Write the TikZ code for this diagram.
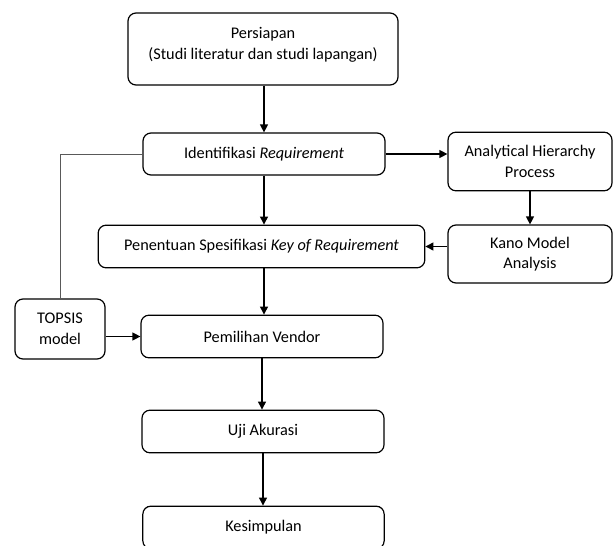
\documentclass[tikz,border=0pt]{standalone}
\usepackage{fontspec}
\setmainfont{Carlito}
\usepackage{tikz}
\usetikzlibrary{arrows.meta,positioning}

\tikzset{
  stepbox/.style={draw, rounded corners=6pt, line width=0.9pt, align=center,
    font=\fontsize{12.2}{15.5}\selectfont, inner sep=2pt},
  flow/.style={line width=0.9pt, -{Triangle[length=6pt,width=6pt]}},
}

\begin{document}
\begin{tikzpicture}[x=0.75pt,y=-0.75pt]
            \useasboundingbox (0,0) rectangle (614,546);
            \node[stepbox, minimum width=202.5pt, minimum height=54pt] (persiapan) at (263,49) {Persiapan\\(Studi literatur dan studi lapangan)\\[-7.5pt]};
            \node[stepbox, minimum width=181.5pt, minimum height=31.5pt] (ident) at (264,154) {Identifikasi \textit{Requirement}};
            \node[stepbox, minimum width=123pt, minimum height=44pt] (ahp) at (530,161.5) {Analytical Hierarchy\\Process};
            \node[stepbox, minimum width=245pt, minimum height=32pt] (penentuan) at (261.5,246.5) {Penentuan Spesifikasi \textit{Key of Requirement}};
            \node[stepbox, minimum width=123pt, minimum height=43.5pt] (kano) at (530,254) {Kano Model\\Analysis};
            \node[stepbox, minimum width=67.5pt, minimum height=45pt] (topsis) at (60,329) {TOPSIS\\model};
            \node[stepbox, minimum width=181.5pt, minimum height=32pt] (pemilihan) at (262,336.5) {Pemilihan Vendor};
            \node[stepbox, minimum width=181.5pt, minimum height=32pt] (uji) at (263,431.5) {Uji Akurasi};
            \node[stepbox, minimum width=181pt, minimum height=32pt] (kesimpulan) at (263.5,527.5) {Kesimpulan};
            \draw[flow] (persiapan.south -| ident.north) -- (ident.north);
            \draw[flow] (ident.south) -- (ident.south |- penentuan.north);
            \draw[flow] (penentuan.south -| ident.south) -- (pemilihan.north -| ident.south);
            \draw[flow] (pemilihan.south) -- (uji.north -| pemilihan.south);
            \draw[flow] (uji.south) -- (kesimpulan.north -| uji.south);
            \draw[flow] (ident.east) -- (ident.east -| ahp.west);
            \draw[flow] (ahp.south) -- (kano.north);
            \draw[flow] (penentuan.east -| kano.west) -- (penentuan.east);
            \draw[flow] (pemilihan.west -| topsis.east) -- (pemilihan.west);
            \draw[gray!70!black, line width=0.5pt] (ident.west) -- (ident.west -| topsis.north) -- (topsis.north);
        \end{tikzpicture}
\end{document}
